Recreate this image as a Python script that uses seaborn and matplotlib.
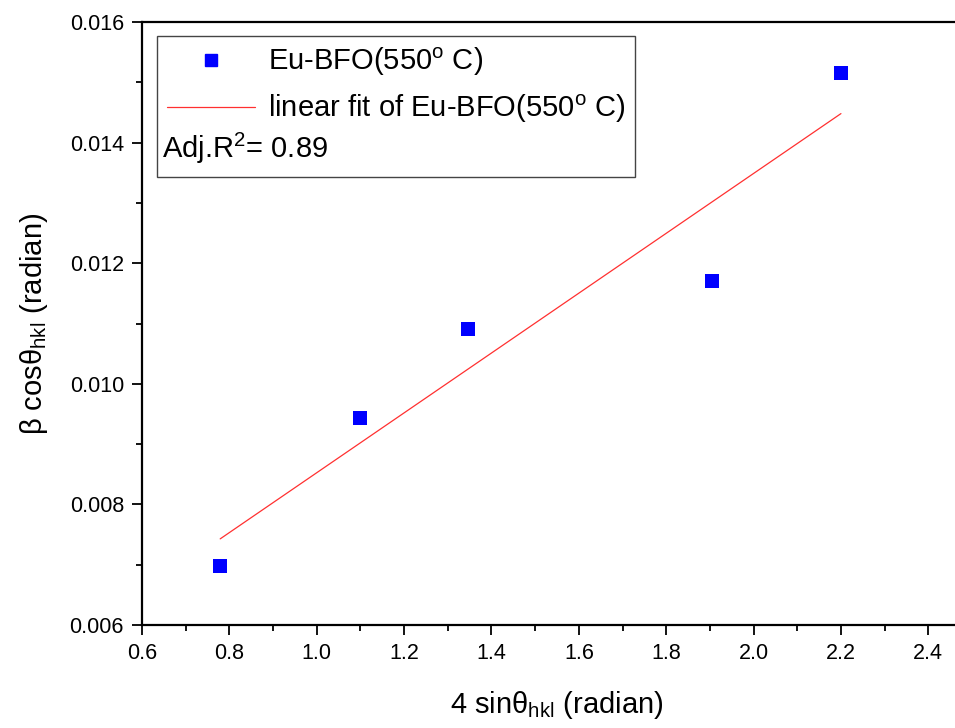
import numpy as np
import pandas as pd
import seaborn as sns
import matplotlib
matplotlib.use("Agg")
import matplotlib.pyplot as plt
from matplotlib.lines import Line2D
from matplotlib.ticker import MultipleLocator

# data
x_vals = [0.779, 1.100, 1.347, 1.904, 2.200]
y_vals = [0.00698, 0.00944, 0.01091, 0.01170, 0.01516]
sample = "Eu-BFO(550$^{\\mathrm{o}}$ C)"
adj_r2 = 0.89

df = pd.DataFrame({"x": x_vals, "y": y_vals})

sns.set_style("ticks", {"axes.edgecolor": "black", "text.color": "black",
                        "xtick.color": "black", "ytick.color": "black",
                        "axes.labelcolor": "black"})
plt.rcParams['font.family'] = ['Liberation Sans', 'DejaVu Sans']
plt.rcParams['mathtext.fontset'] = 'custom'
plt.rcParams['mathtext.rm'] = 'Liberation Sans'
plt.rcParams['mathtext.it'] = 'Liberation Sans:italic'

fig = plt.figure(figsize=(9.55, 7.28), dpi=100)
ax = fig.add_axes([142/955, 103/728, (972-142)/955, (625-22)/728])

sns.scatterplot(data=df, x="x", y="y", marker="s", s=110, color="#0000ff",
                edgecolor="#0000ff", linewidth=0, ax=ax, zorder=3)
sns.regplot(data=df, x="x", y="y", scatter=False, ci=None, truncate=True,
            line_kws={"color": "#ff3030", "lw": 0.9}, ax=ax)

ax.set_xlim(0.6, 2.5)
ax.set_ylim(0.006, 0.016)
ax.xaxis.set_major_locator(MultipleLocator(0.2))
ax.xaxis.set_minor_locator(MultipleLocator(0.1))
ax.yaxis.set_major_locator(MultipleLocator(0.002))
ax.yaxis.set_minor_locator(MultipleLocator(0.001))
ax.xaxis.set_major_formatter(plt.FuncFormatter(lambda v, p: f"{v:.1f}"))
ax.yaxis.set_major_formatter(plt.FuncFormatter(lambda v, p: f"{v:.3f}"))

for s in ax.spines.values():
    s.set_linewidth(1.6)
    s.set_color("black")
ax.tick_params(which="major", length=7, width=1.3, labelsize=15.5, direction="out", pad=6)
ax.tick_params(which="minor", length=4, width=1.3, direction="out")

ax.set_xlabel("4 sin\u03b8$_{\\mathrm{hkl}}$ (radian)", fontsize=21, labelpad=18)
ax.set_ylabel("\u03b2 cos\u03b8$_{\\mathrm{hkl}}$ (radian)", fontsize=21, labelpad=14)

handles = [
    Line2D([], [], marker="s", ls="none", color="#0000ff", markersize=9),
    Line2D([], [], color="#ff3030", lw=0.9),
    Line2D([], [], ls="none"),
]
labels = [sample, "linear fit of " + sample, " "]
leg = ax.legend(handles, labels, loc="upper left", bbox_to_anchor=(0.018, 0.977),
                fontsize=21, frameon=True, fancybox=False, edgecolor="#444444",
                framealpha=1, borderpad=0.35, handlelength=3.0, handletextpad=0.45,
                labelspacing=0.48, borderaxespad=0)
leg.get_frame().set_linewidth(1.0)
ax.text(0.024, 0.79, f"Adj.R$^2$= {adj_r2}", transform=ax.transAxes,
        fontsize=21, va="center", ha="left", zorder=10)

fig.savefig("out.png", dpi=100)
